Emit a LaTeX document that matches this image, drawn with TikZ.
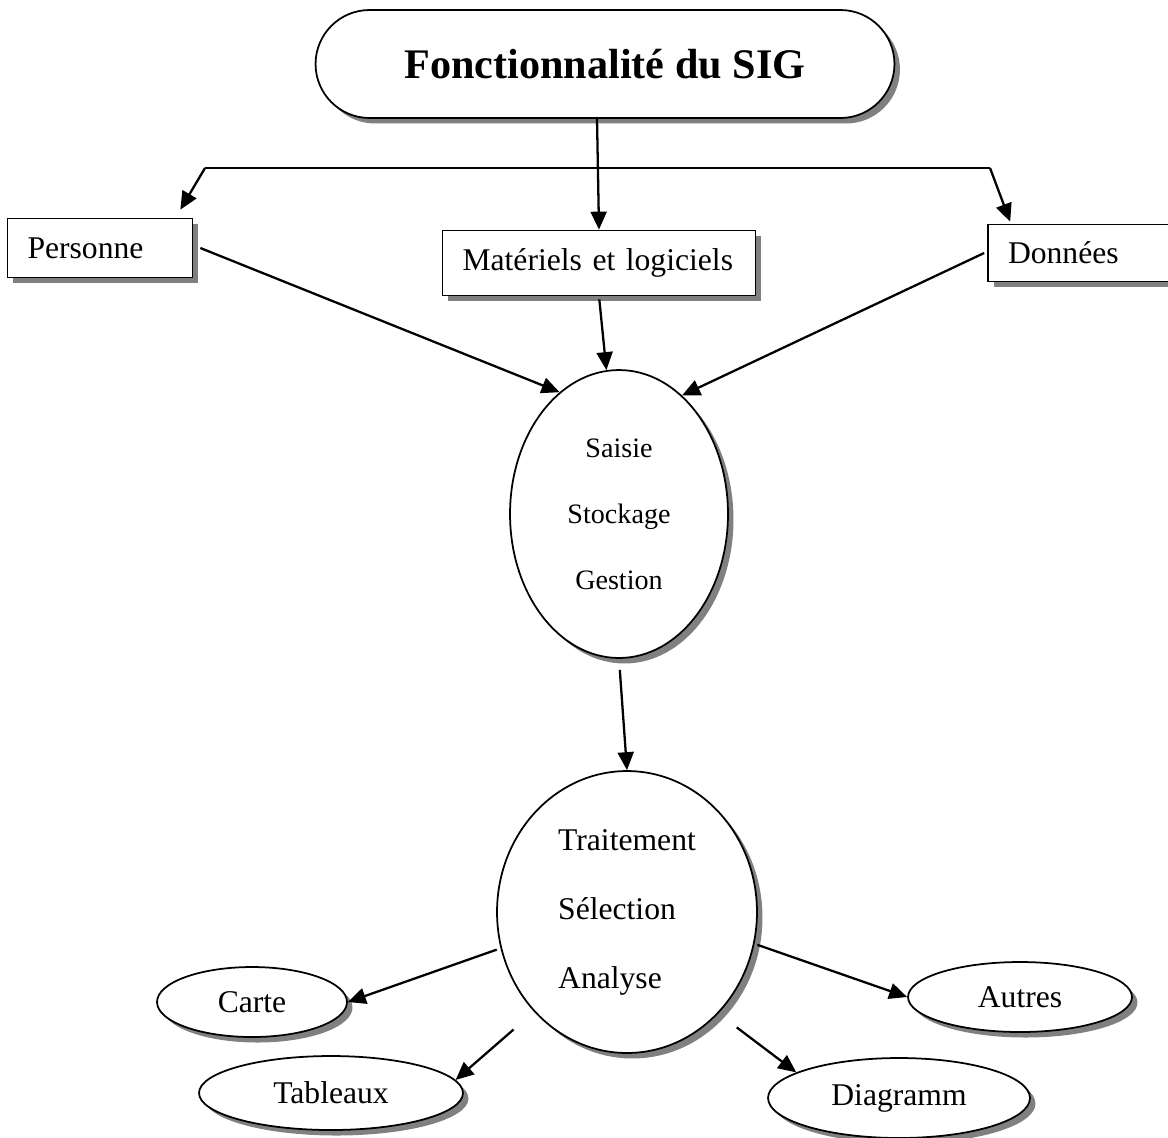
\documentclass[tikz,border=0pt]{standalone}
\usepackage{fontspec}
\setmainfont{Liberation Serif}
\usetikzlibrary{arrows.meta,shadows,shapes.geometric}

\begin{document}
\begin{tikzpicture}[
  x=0.02cm, y=0.02cm,
  shadowed/.style={drop shadow={shadow xshift=0.11cm, shadow yshift=-0.11cm, fill=gray, opacity=1}},
  titlebox/.style={draw, fill=white, shadowed, line width=1pt, rounded corners=1.08cm, minimum width=11.58cm, minimum height=2.16cm, font=\fontsize{24}{28}\selectfont\bfseries},
  box/.style={draw, rectangle, fill=white, shadowed, line width=1pt, align=left, inner xsep=0.4cm, font=\fontsize{18}{22}\selectfont},
  bubble/.style={draw, ellipse, fill=white, shadowed, line width=1pt, inner sep=0pt},
  oval/.style={bubble, font=\fontsize{18}{22}\selectfont},
  arrow/.style={-{Triangle[length=0.36cm,width=0.32cm]}, line width=1.3pt},
  link/.style={line width=1.3pt}
]
\useasboundingbox (0,0) rectangle (1168,-1137);

% Title
\node[titlebox] (sig) at (605,-64) {Fonctionnalité du SIG};

% Components
\node[box, text width=2.9cm, minimum height=1.18cm] (pers) at (100,-248) {Personne};
\node[box, text width=5.46cm, minimum height=1.3cm] (mat) at (599,-263) {Matériels et logiciels};
\node[box, text width=3.2cm, minimum height=1.14cm] (don) at (1088,-253) {Données};

% Functions
\node[bubble, minimum width=4.36cm, minimum height=5.76cm, align=center, font=\fontsize{16}{37.5}\selectfont] (saisie) at (619,-514) {Saisie\\Stockage\\Gestion};
\node[bubble, minimum width=5.2cm, minimum height=5.64cm, align=left, font=\fontsize{18}{39.3}\selectfont] (trait) at (627,-912) {Traitement\\Sélection\\Analyse};

% Outputs
\node[oval, minimum width=3.8cm, minimum height=1.4cm, text depth=-0.1cm] (carte) at (252,-1002) {Carte};
\node[oval, minimum width=5.28cm, minimum height=1.48cm, xshift=0.2cm, inner xsep=0pt] (tab) at (321,-1093) {Tableaux};
\node[oval, minimum width=4.48cm, minimum height=1.4cm] (autres) at (1020,-997) {Autres};
\node[oval, minimum width=5.24cm, minimum height=1.6cm] (diag) at (899,-1098) {Diagramm};

% Branch from the title
\coordinate (bl) at (205,-168);
\coordinate (br) at (990,-168);
\draw[arrow] ([xshift=-0.16cm]sig.south) -- (mat.north);
\draw[link] (bl) -- (br);
\draw[arrow] (bl) -- ([xshift=-0.26cm,yshift=0.16cm]pers.north east);
\draw[arrow] (br) -- ([xshift=0.46cm,yshift=0.04cm]don.north west);

% Inputs
\draw[arrow] ([xshift=0.14cm]pers.east) -- (saisie.116);
\draw[arrow, shorten <=0.06cm] (mat.south) -- (saisie.95);
\draw[arrow] ([xshift=-0.06cm]don.west) -- (saisie.62);
\draw[arrow, shorten <=0.22cm] (saisie.south) -- (trait.north);

% Results
\draw[arrow, shorten <=0.08cm] (trait.196) -- (carte.east);
\draw[arrow, shorten <=0.54cm] (trait.227) -- (tab.6);
\draw[arrow, shorten <=0.46cm] (trait.312) -- (diag.166);
\draw[arrow, shorten <=0.06cm] (trait.346) -- (autres.west);

\end{tikzpicture}
\end{document}
